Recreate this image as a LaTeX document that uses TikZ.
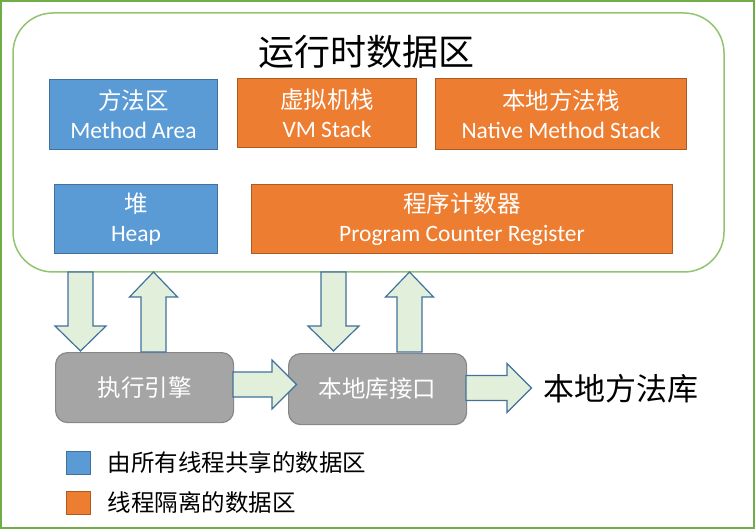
\documentclass[tikz,border=0pt]{standalone}
\usepackage{fontspec}
\setmainfont{Carlito}
\newfontfamily\cjk{Noto Sans CJK SC}
\definecolor{framegreen}{RGB}{112,173,71}
\definecolor{rtgreen}{RGB}{146,196,110}
\definecolor{areablue}{RGB}{91,155,213}
\definecolor{areablueline}{RGB}{65,113,156}
\definecolor{areaorange}{RGB}{237,125,49}
\definecolor{areaorangeline}{RGB}{174,90,33}
\definecolor{enginegray}{RGB}{165,165,165}
\definecolor{enginegrayline}{RGB}{135,135,135}
\definecolor{arrowfill}{RGB}{226,239,218}
\tikzset{
  boxtext/.style={text=white,align=center,font=\fontsize{23.5}{29}\selectfont},
  shared/.style={boxtext,draw=areablueline,fill=areablue,line width=1pt,anchor=north west},
  isolated/.style={boxtext,draw=areaorangeline,fill=areaorange,line width=1pt,anchor=north west},
  engine/.style={boxtext,draw=enginegrayline,fill=enginegray,line width=1.2pt,rounded corners=12pt,anchor=north west},
  blk/.style={draw=areablueline,fill=arrowfill,line width=1.2pt,line join=miter},
  legendbox/.style={minimum width=24pt,minimum height=23pt,inner sep=0pt,line width=1pt,anchor=north west},
  legendtext/.style={anchor=west,font=\cjk\fontsize{23.5}{28}\selectfont}
}
\begin{document}
\begin{tikzpicture}[x=1pt,y=-1pt]
\useasboundingbox (0,0) rectangle (755,529);
\draw[framegreen,line width=1.5pt] (1,1) rectangle (754,528);

% runtime data area
\node[draw=rtgreen,line width=1.5pt,rounded corners=40pt,minimum width=711pt,minimum height=259pt] (rt) at (368.5,142.5) {};
\node[font=\cjk\fontsize{36}{40}\selectfont] (title) at (366,52) {运行时数据区};

\node[shared,minimum width=168pt,minimum height=70pt] (method) at (49,79) {{\cjk 方法区}\\Method Area};
\node[isolated,minimum width=179pt,minimum height=69pt] (vm) at (237,78) {{\cjk 虚拟机栈}\\VM Stack};
\node[isolated,minimum width=251pt,minimum height=71pt] (native) at (435,78) {{\cjk 本地方法栈}\\Native Method Stack};
\node[shared,minimum width=163pt,minimum height=69pt] (heap) at (54,184) {{\cjk 堆}\\Heap};
\node[isolated,minimum width=421pt,minimum height=69pt] (pc) at (251,184) {{\cjk 程序计数器}\\Program Counter Register};

% engine and native interface
\node[engine,minimum width=178pt,minimum height=70pt] (exec) at (55,352) {\cjk 执行引擎};
\node[engine,minimum width=178pt,minimum height=71pt] (jni) at (288,353) {\cjk 本地库接口};
\node[anchor=west,font=\cjk\fontsize{31}{34}\selectfont] (lib) at (540,389) {本地方法库};

% block arrows
\coordinate (d1) at (80.5,272);
\coordinate (d2) at (333.5,272);
\coordinate (u1) at (153.5,352);
\coordinate (u2) at (409.5,352);
\coordinate (r1) at (233,384.5);
\coordinate (r2) at (466,388);
\foreach \n in {d1,d2}
  \draw[blk,shift={(\n)}] (-12.5,0) -- (12.5,0) -- (12.5,54) -- (25.5,54) -- (0,79) -- (-25.5,54) -- (-12.5,54) -- cycle;
\foreach \n in {u1,u2}
  \draw[blk,shift={(\n)}] (-12.5,0) -- (12.5,0) -- (12.5,-55) -- (24,-55) -- (0,-80) -- (-24,-55) -- (-12.5,-55) -- cycle;
\foreach \n/\h in {r1/39,r2/41}
  \draw[blk,shift={(\n)}] (0,-12.5) -- (\h,-12.5) -- (\h,-24.5) -- (\h+24.5,0) -- (\h,24.5) -- (\h,12.5) -- (0,12.5) -- cycle;

% legend
\node[legendbox,draw=areablueline,fill=areablue] (keyshared) at (66,451) {};
\node[legendtext] (keysharedtext) at (104,463) {由所有线程共享的数据区};
\node[legendbox,draw=areaorangeline,fill=areaorange] (keyisolated) at (66,491) {};
\node[legendtext] (keyisolatedtext) at (104,503) {线程隔离的数据区};
\end{tikzpicture}
\end{document}
